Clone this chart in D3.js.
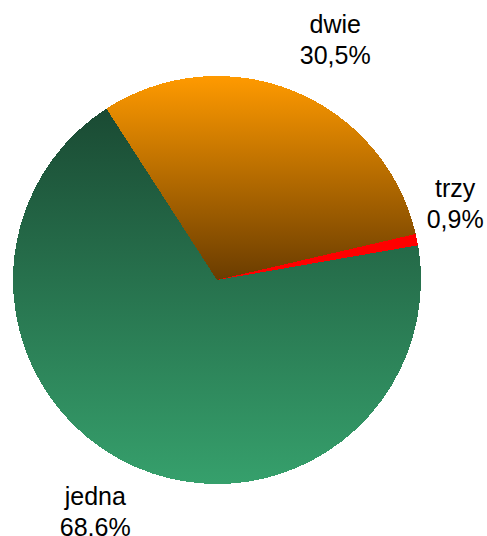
<!DOCTYPE html>
<html>
<head>
<meta charset="utf-8">
<script src="https://cdn.jsdelivr.net/npm/d3@7/dist/d3.min.js"></script>
<style>
  html, body { margin: 0; padding: 0; background: #ffffff; }
  svg { display: block; }
  text { font-family: "Liberation Sans", Arial, sans-serif; font-size: 25px; fill: #000; }
</style>
</head>
<body>
<svg id="chart" width="487" height="536"></svg>
<script>
// Number of items per respondent
const categories = ["jedna", "dwie", "trzy"];
const values = [68.6, 30.5, 0.9];
const valueLabels = ["68,6%", "30,5%", "0,9%"];

const width = 487, height = 536;
const cx = 217, cy = 280, radius = 204;

const svg = d3.select("#chart");
const defs = svg.append("defs");

// Vertical gradients, one per slice, spanning each slice's bounding box
const gradStops = [
  [["0%", "#1a4a33"], ["100%", "#36a06c"]],
  [["0%", "#ff9a00"], ["100%", "#6a3c00"]],
  [["0%", "#ff0000"], ["100%", "#ff0000"]]
];
gradStops.forEach((stops, i) => {
  const g = defs.append("linearGradient")
    .attr("id", "grad" + i)
    .attr("x1", 0).attr("y1", 0).attr("x2", 0).attr("y2", 1);
  stops.forEach(s => g.append("stop").attr("offset", s[0]).attr("stop-color", s[1]));
});

const start = 80.2 * Math.PI / 180;
const pie = d3.pie().sort(null).value(d => d)
  .startAngle(start).endAngle(start + 2 * Math.PI);
const arcs = pie(values);

const arc = d3.arc().innerRadius(0).outerRadius(radius);

const g = svg.append("g").attr("transform", `translate(${cx},${cy})`);

g.selectAll("path.slice")
  .data(arcs)
  .join("path")
  .attr("class", "slice")
  .attr("d", arc)
  .attr("fill", (d, i) => `url(#grad${i})`)
  .attr("shape-rendering", "crispEdges");

// Label placement: angular shift (deg) and distance from centre for each slice
const labelShift = [4.3, 3.9, -7];
const labelDist = [259.5, 270, 251];

const labels = g.selectAll("g.label")
  .data(arcs)
  .join("g")
  .attr("class", "label")
  .attr("transform", (d, i) => {
    const a = (d.startAngle + d.endAngle) / 2 + labelShift[i] * Math.PI / 180;
    const x = Math.sin(a) * labelDist[i];
    const y = -Math.cos(a) * labelDist[i];
    return `translate(${x},${y})`;
  });

labels.append("text")
  .attr("text-anchor", "middle")
  .attr("y", -4)
  .text((d, i) => categories[i]);

labels.append("text")
  .attr("text-anchor", "middle")
  .attr("y", 27)
  .text((d, i) => valueLabels[i]);
</script>
</body>
</html>
